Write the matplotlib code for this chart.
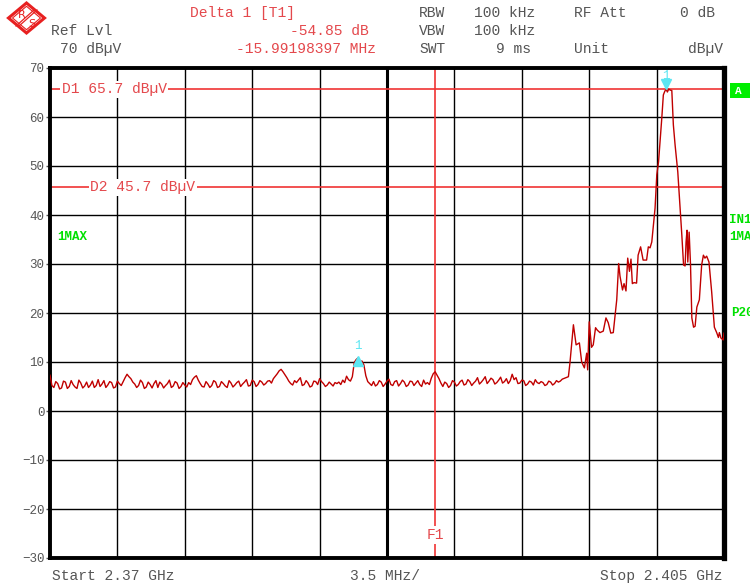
"""Spectrum analyzer screen: max-hold trace 2.37 - 2.405 GHz with display lines and delta marker"""
import matplotlib
matplotlib.use('Agg')
import matplotlib.pyplot as plt
from matplotlib.patches import Polygon, Rectangle
import numpy as np

plt.rcParams['font.family'] = ['Liberation Mono', 'DejaVu Sans Mono']

# ── sweep settings ──
start_mhz = 2370.0
span_mhz = 35.0
ref_lvl = 70
y_bottom = -30

# ── trace: noise floor on 0.1 MHz sweep grid (offset from start, MHz) ──
floor_step = 0.1
floor_lvl = [
    7.3, 5.2, 4.8, 6.0, 5.6, 4.5, 4.7, 6.1, 5.9, 4.6,   # 0 MHz
    5.0, 6.2, 5.4, 4.9, 4.6, 6.3, 5.7, 4.7, 5.1, 5.9,
    4.8, 5.3, 6.1, 4.8, 5.2, 6.4, 5.0, 5.5, 6.2, 4.8,
    5.3, 6.0, 5.8, 4.7, 4.9, 6.1, 5.6, 5.2, 6.0, 6.8,
    7.5, 7.0, 6.6, 5.9, 5.5, 4.8, 5.2, 6.3, 5.8, 4.6,
    4.9, 5.9, 5.4, 4.7, 5.6, 6.2, 4.8, 5.9, 5.5, 4.7,   # 5 MHz
    5.2, 5.6, 6.3, 4.8, 5.1, 6.0, 5.7, 4.6, 5.0, 5.8,
    5.3, 4.9, 5.8, 5.4, 6.4, 6.9, 7.2, 6.3, 5.6, 5.0,
    4.9, 6.0, 5.5, 4.8, 5.2, 6.2, 5.9, 4.8, 5.0, 6.0,
    5.6, 5.1, 4.8, 6.2, 5.7, 4.9, 5.3, 5.8, 6.1, 5.0,
    5.5, 5.9, 6.4, 5.1, 5.2, 6.3, 6.0, 5.0, 5.4, 6.2,   # 10 MHz
    5.9, 5.3, 5.6, 6.1, 6.2, 5.7, 6.6, 7.1, 7.6, 8.2,
    8.5, 8.0, 7.4, 6.8, 6.1, 5.6, 5.3, 6.2, 5.8, 6.3,
    6.8, 5.2, 5.4, 6.2, 5.7, 4.9, 5.1, 6.1, 6.0, 5.4,
    6.6, 6.0, 5.6, 5.0, 5.3, 5.9, 5.5, 5.1, 5.8, 5.6,
    5.9, 5.4, 6.3, 5.8, 7.1, 6.4, 6.1, 7.0, 9.9, 10.5,  # 15 MHz
    10.85, 10.1, 10.2, 9.4, 7.2, 6.0, 5.6, 5.2, 6.0, 5.1,
    5.4, 6.2, 5.9, 5.0, 5.5, 6.1, 6.5, 5.4, 5.2, 6.0,
    6.2, 5.1, 5.6, 6.3, 5.9, 5.0, 5.3, 6.1, 6.0, 5.2,
    5.7, 6.2, 5.4, 5.0, 6.3, 5.5, 5.8, 5.4, 6.7, 7.6,
    8.0, 7.3, 6.6, 5.7, 5.0, 5.9, 5.6, 4.8, 5.2, 6.2,   # 20 MHz
    5.9, 5.1, 5.4, 6.0, 6.3, 5.3, 5.5, 6.4, 6.0, 5.2,
    5.7, 6.1, 6.8, 5.5, 5.9, 6.4, 7.0, 5.6, 6.1, 6.7,
    6.4, 5.5, 5.8, 6.3, 6.9, 5.7, 6.0, 6.6, 5.6, 6.2,
    7.5, 6.4, 6.8, 5.6, 5.7, 6.3, 6.2, 5.2, 5.5, 6.1,
    5.9, 5.3, 6.4, 5.8, 5.6, 6.0, 5.8, 5.2, 5.4, 6.1,   # 25 MHz
    5.9, 5.3, 5.6, 6.2, 5.9, 6.1, 6.5,
]

# ── trace: signal region (offset MHz, dBuV) ──
sig_f = [26.8, 26.92, 27.0, 27.18, 27.32, 27.49, 27.61, 27.75, 27.87, 27.92,
         28.0, 28.12, 28.21, 28.33, 28.42, 28.56, 28.73, 28.87, 28.99, 29.12,
         29.25, 29.43, 29.53, 29.6, 29.73, 29.81, 29.91, 30.0, 30.09, 30.17,
         30.24, 30.33, 30.46, 30.54, 30.67, 30.8, 30.98, 31.07, 31.16, 31.25,
         31.42, 31.51, 31.6, 31.68, 31.77, 31.85, 31.92, 31.99, 32.06, 32.13,
         32.2, 32.29, 32.37, 32.46, 32.6, 32.72, 32.81, 32.9, 32.98, 33.03,
         33.08, 33.12, 33.19, 33.26, 33.33, 33.42, 33.5, 33.59, 33.72, 33.84,
         33.93, 34.01, 34.1, 34.22, 34.36, 34.5, 34.62, 34.71, 34.76, 34.84,
         34.96, 35.0]
sig_lvl = [6.8, 7.0, 9.8, 17.6, 13.5, 13.9, 10.0, 8.8, 11.8, 8.4,
           18.2, 13.0, 13.5, 17.0, 16.5, 16.0, 16.3, 19.0, 18.0, 15.9,
           16.0, 22.7, 30.1, 27.5, 24.7, 26.0, 24.5, 31.2, 28.5, 31.0,
           26.0, 26.2, 26.1, 31.8, 33.5, 30.8, 30.8, 33.5, 33.3, 34.5,
           41.4, 48.2, 50.8, 54.9, 59.8, 64.5, 65.2, 65.7, 65.1, 65.7,
           65.5, 65.4, 58.4, 54.3, 48.8, 41.4, 35.9, 29.8, 29.6, 34.5,
           36.9, 30.4, 36.5, 30.0, 19.0, 17.1, 17.3, 21.2, 22.7, 29.8,
           31.8, 31.2, 31.6, 30.4, 24.3, 17.1, 16.0, 15.0, 16.0, 14.9,
           14.5, 15.9]

# ── markers / lines ──
d1_lvl = 65.7
d2_lvl = 45.7
f1_off = 20.0          # 2.390 GHz
mk1_off, mk1_lvl = 31.99, 65.7
delta_off, delta_lvl = 16.0, 10.85

floor_f = np.arange(len(floor_lvl)) * floor_step
trace_f = np.concatenate([floor_f, sig_f])
trace_lvl = np.concatenate([floor_lvl, sig_lvl])

GRAY = '#555555'
RED_TXT = '#e4484c'
RED_LINE = '#f03434'
TRACE = '#c00000'
CYAN = '#5ce6f2'
GREEN = '#00e000'

fig = plt.figure(figsize=(7.5, 5.87), dpi=100)
ax = fig.add_axes([50 / 750, 1 - 558 / 587, 674 / 750, 490 / 587])


def fx(x):
    return x / 750


def fy(y):
    return 1 - y / 587


# 网格
ax.set_xlim(0, span_mhz)
ax.set_ylim(y_bottom, ref_lvl)
ax.set_xticks(np.arange(0, span_mhz + 0.01, span_mhz / 10))
ax.set_yticks(np.arange(y_bottom, ref_lvl + 1, 10))
ax.grid(True, color='black', linewidth=1.0)
ax.axvline(span_mhz / 2, color='black', linewidth=2.2, zorder=1)
ax.tick_params(axis='x', length=0, labelbottom=False)
ax.tick_params(axis='y', length=3, width=1, colors=GRAY, labelsize=9, pad=1)
for s in ax.spines.values():
    s.set_linewidth(2.8)
ax.spines['right'].set_linewidth(3.8)

# display lines D1 / D2 and frequency line F1
ax.axhline(d1_lvl, color=RED_LINE, linewidth=1.2, zorder=2)
ax.axhline(d2_lvl, color=RED_LINE, linewidth=1.2, zorder=2)
ax.axvline(f1_off, color=RED_LINE, linewidth=1.2, zorder=2)
ax.text(0.62, d1_lvl, f'D1 {d1_lvl} dBµV', color=RED_TXT, fontsize=10.5,
        va='center', ha='left', zorder=4,
        bbox=dict(boxstyle='square,pad=0.1', facecolor='white', edgecolor='none'))
ax.text(2.08, d2_lvl, f'D2 {d2_lvl} dBµV', color=RED_TXT, fontsize=10.5,
        va='center', ha='left', zorder=4,
        bbox=dict(boxstyle='square,pad=0.1', facecolor='white', edgecolor='none'))
ax.text(f1_off, -25.3, 'F1', color=RED_TXT, fontsize=10.5, va='center', ha='center',
        zorder=4, bbox=dict(boxstyle='square,pad=0.15', facecolor='white', edgecolor='none'))

# 迹线
ax.plot(trace_f, trace_lvl, color=TRACE, linewidth=1.0, zorder=5)

# markers
ax.plot(mk1_off, mk1_lvl + 1.0, marker='v', markersize=7, color=CYAN, zorder=6)
ax.text(mk1_off, mk1_lvl + 2.6, '1', color=CYAN, fontsize=9, ha='center', va='center', zorder=6)
ax.plot(delta_off, delta_lvl - 0.6, marker='^', markersize=7, color=CYAN, zorder=6)
ax.text(delta_off, delta_lvl + 2.5, '1', color=CYAN, fontsize=9, ha='center', va='center', zorder=6)

# green trace / status labels
fig.text(fx(57), fy(237), '1MAX', color=GREEN, fontsize=9, fontweight='bold', va='center')
fig.text(fx(729), fy(220), 'IN1', color=GREEN, fontsize=9, fontweight='bold', va='center')
fig.text(fx(729), fy(237), '1MA', color=GREEN, fontsize=9, fontweight='bold', va='center')
fig.text(fx(731), fy(313), 'P20', color=GREEN, fontsize=9, fontweight='bold', va='center')
fig.patches.append(Rectangle((fx(730), fy(98)), fx(20), 15 / 587, transform=fig.transFigure,
                             facecolor='#00ee00', edgecolor='none'))
fig.text(fx(738), fy(91), 'A', color='white', fontsize=8, fontweight='bold', va='center', ha='center')

# R&S 标志
cx, cy, hw, hh = 26.5, 18.0, 18.0, 15.0
outer = Polygon([(fx(cx - hw), fy(cy)), (fx(cx), fy(cy - hh)), (fx(cx + hw), fy(cy)), (fx(cx), fy(cy + hh))],
                closed=True, transform=fig.transFigure, facecolor='white', edgecolor='#e82020', linewidth=2.2)
inner = Polygon([(fx(cx - hw + 4), fy(cy)), (fx(cx), fy(cy - hh + 3.3)), (fx(cx + hw - 4), fy(cy)), (fx(cx), fy(cy + hh - 3.3))],
                closed=True, transform=fig.transFigure, facecolor='none', edgecolor='#e82020', linewidth=0.8)
fig.patches.extend([outer, inner])
for d in (-1.5, 1.5):
    fig.lines.append(plt.Line2D([fx(cx - 9 + d), fx(cx + 9 + d)], [fy(cy + 8), fy(cy - 8)],
                                transform=fig.transFigure, color='#e82020', linewidth=0.9))
fig.text(fx(22), fy(15), 'R', color='#e82020', fontsize=8, ha='center', va='center', family='DejaVu Sans')
fig.text(fx(32), fy(24), 'S', color='#e82020', fontsize=8, ha='center', va='center', family='DejaVu Sans')

# 表头
hdr = dict(fontsize=10.5, va='center')
fig.text(fx(190), fy(13), 'Delta 1 [T1]', color=RED_TXT, **hdr)
fig.text(fx(51), fy(31), 'Ref Lvl', color=GRAY, **hdr)
fig.text(fx(60), fy(49), f'{ref_lvl} dBµV', color=GRAY, **hdr)
fig.text(fx(369), fy(31), '-54.85 dB', color=RED_TXT, ha='right', **hdr)
fig.text(fx(376), fy(49), '-15.99198397 MHz', color=RED_TXT, ha='right', **hdr)
fig.text(fx(419), fy(13), 'RBW', color=GRAY, **hdr)
fig.text(fx(474), fy(13), '100 kHz', color=GRAY, **hdr)
fig.text(fx(419), fy(31), 'VBW', color=GRAY, **hdr)
fig.text(fx(474), fy(31), '100 kHz', color=GRAY, **hdr)
fig.text(fx(419), fy(49), 'SWT', color=GRAY, **hdr)
fig.text(fx(531), fy(49), '9 ms', color=GRAY, ha='right', **hdr)
fig.text(fx(574), fy(13), 'RF Att', color=GRAY, **hdr)
fig.text(fx(715), fy(13), '0 dB', color=GRAY, ha='right', **hdr)
fig.text(fx(574), fy(49), 'Unit', color=GRAY, **hdr)
fig.text(fx(723), fy(49), 'dBµV', color=GRAY, ha='right', **hdr)

# 底部频率说明
fig.text(fx(52), fy(576), f'Start {start_mhz / 1000:.2f} GHz', color=GRAY, **hdr)
fig.text(fx(350), fy(576), f'{span_mhz / 10} MHz/', color=GRAY, **hdr)
fig.text(fx(722), fy(576), f'Stop {(start_mhz + span_mhz) / 1000:.3f} GHz', color=GRAY, ha='right', **hdr)

fig.savefig('out.png', dpi=100, facecolor='white')
